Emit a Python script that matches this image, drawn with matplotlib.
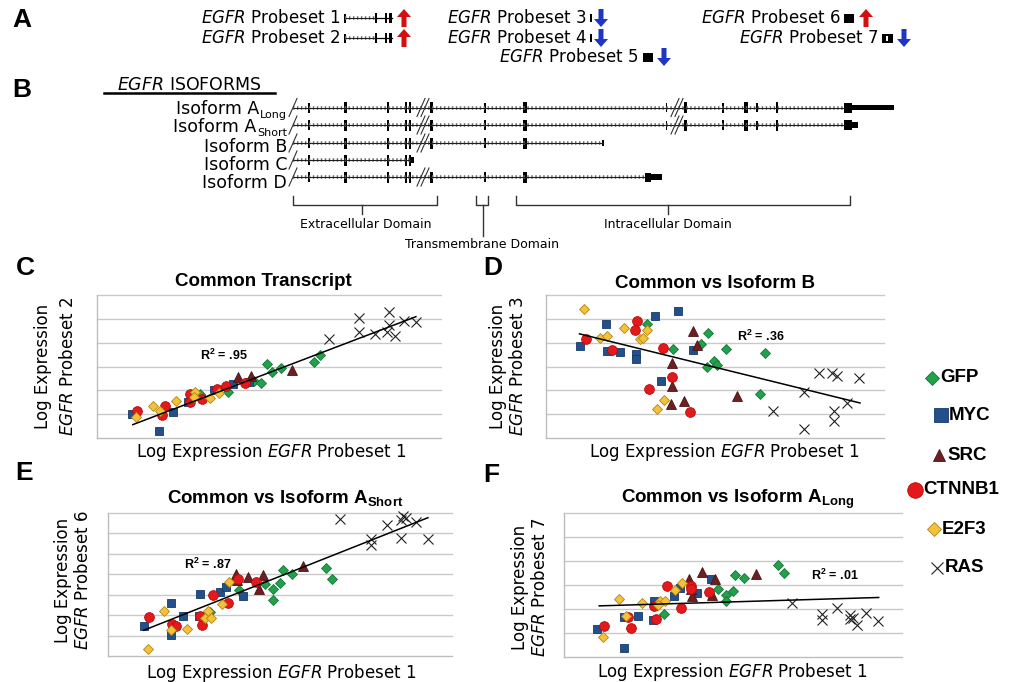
import matplotlib
matplotlib.use('Agg')
import matplotlib.pyplot as plt
from matplotlib.patches import Rectangle, Polygon

plt.rcParams['mathtext.fontset'] = 'custom'
plt.rcParams['mathtext.rm'] = 'DejaVu Sans'
plt.rcParams['mathtext.it'] = 'DejaVu Sans:italic'
plt.rcParams['mathtext.bf'] = 'Liberation Sans:bold'
plt.rcParams['mathtext.sf'] = 'DejaVu Sans'
plt.rcParams['font.family'] = ['DejaVu Sans']

# ---------------- data (x: probeset 1, y: other probeset; grid units) ----------------
groups = ['GFP', 'MYC', 'SRC', 'CTNNB1', 'E2F3', 'RAS']

c_gfp = [(3.00, 1.84), (3.81, 1.93), (4.57, 2.40), (4.77, 2.30), (4.94, 3.11), (5.09, 2.75), (5.36, 2.92), (6.30, 3.18), (6.49, 3.49)]
c_myc = [(1.02, 1.00), (1.81, 0.31), (2.20, 1.09), (2.65, 1.53), (3.39, 2.02), (3.94, 2.26), (4.41, 2.36)]
c_src = [(4.09, 2.55), (4.48, 2.62), (5.67, 2.86)]
c_ctnnb1 = [(1.16, 1.14), (1.88, 0.95), (1.97, 1.35), (2.69, 1.84), (2.71, 1.49), (3.05, 1.65), (3.49, 2.05), (3.76, 2.20), (4.31, 2.30)]
c_e2f3 = [(1.14, 0.88), (1.63, 1.33), (1.82, 1.12), (2.30, 1.56), (2.86, 1.93), (2.81, 1.74), (3.29, 1.67), (3.54, 1.88)]
c_ras = [(6.73, 4.14), (7.63, 5.02), (7.63, 4.46), (8.07, 4.35), (8.50, 5.27), (8.50, 4.74), (8.43, 4.46), (8.65, 4.26), (8.91, 4.91), (9.27, 4.88)]
c_trend = [(1.04, 0.56), (9.27, 5.09)]

d_gfp = [(2.99, 4.77), (3.77, 3.75), (4.78, 4.41), (4.58, 3.95), (4.96, 3.24), (5.07, 3.07), (4.76, 2.97), (5.33, 3.73), (6.48, 3.57), (6.32, 1.86)]
d_myc = [(1.01, 3.86), (1.78, 4.77), (1.80, 3.63), (2.18, 3.60), (2.65, 3.54), (2.65, 3.31), (3.23, 5.12), (3.92, 5.33), (4.36, 3.70), (3.39, 2.41)]
d_src = [(4.36, 4.51), (4.48, 3.91), (3.74, 3.14), (3.74, 2.19), (3.69, 1.44), (4.07, 1.56), (5.66, 1.77)]
d_ctnnb1 = [(1.17, 4.16), (1.95, 3.70), (2.69, 4.91), (2.64, 4.53), (3.46, 3.78), (3.74, 2.55), (3.04, 2.07), (4.27, 1.09)]
d_e2f3 = [(1.13, 5.40), (1.61, 4.21), (1.80, 4.28), (2.30, 4.63), (2.79, 4.14), (2.87, 4.21), (2.99, 4.53), (3.48, 1.58), (3.28, 1.21)]
d_ras = [(8.08, 2.72), (8.47, 2.72), (8.62, 2.61), (9.27, 2.53), (7.62, 1.95), (6.73, 1.12), (8.52, 1.14), (8.92, 1.45), (8.52, 0.70), (7.62, 0.38)]
d_trend = [(0.99, 4.37), (9.29, 1.47)]

e_gfp = [(2.96, 2.15), (3.80, 3.21), (4.56, 3.54), (4.79, 3.30), (4.79, 2.74), (5.00, 3.59), (5.10, 4.19), (5.36, 4.01), (6.33, 4.32), (6.50, 3.75)]
e_myc = [(1.05, 1.47), (1.82, 1.01), (1.83, 2.59), (2.18, 1.94), (2.67, 3.05), (3.25, 3.13), (3.42, 3.36), (3.93, 2.92), (2.65, 1.94)]
e_src = [(3.73, 4.01), (3.76, 3.70), (4.08, 3.87), (4.50, 3.95), (4.40, 3.30), (5.68, 4.41)]
e_ctnnb1 = [(1.18, 1.91), (1.86, 1.55), (1.99, 1.47), (2.72, 1.50), (2.67, 1.94), (3.06, 2.97), (3.50, 2.61), (3.77, 3.75), (4.29, 3.62)]
e_e2f3 = [(1.15, 0.36), (1.62, 2.22), (1.82, 1.29), (2.31, 1.31), (2.82, 1.88), (2.90, 2.19), (3.00, 1.86), (3.30, 2.53), (3.52, 3.62)]
e_ras = [(6.73, 6.72), (7.64, 5.71), (7.64, 5.45), (8.11, 6.43), (8.52, 6.64), (8.59, 6.84), (8.67, 6.77), (8.95, 6.56), (8.52, 5.77), (9.30, 5.74)]
e_trend = [(1.04, 1.26), (9.30, 6.77)]

f_gfp = [(2.96, 1.80), (4.57, 2.85), (4.79, 2.60), (4.79, 2.33), (4.99, 2.76), (5.06, 3.42), (5.34, 3.28), (6.32, 3.84), (6.50, 3.49)]
f_myc = [(0.99, 1.16), (1.78, 0.38), (1.78, 1.67), (2.20, 1.72), (2.65, 2.34), (2.63, 1.56), (3.24, 2.53), (3.42, 2.86), (3.93, 2.67), (4.34, 3.25)]
f_src = [(3.71, 3.25), (3.75, 2.83), (3.78, 2.53), (4.08, 3.56), (4.38, 2.58), (4.48, 3.25), (5.67, 3.47)]
f_ctnnb1 = [(1.18, 1.30), (1.89, 1.67), (1.97, 1.19), (2.65, 2.14), (2.72, 1.60), (3.04, 2.96), (3.46, 2.05), (3.75, 2.97), (3.75, 2.82), (4.28, 2.69)]
f_e2f3 = [(1.15, 0.82), (1.62, 2.41), (1.82, 1.72), (2.31, 2.25), (2.84, 2.34), (2.99, 2.34), (3.29, 2.80), (3.50, 3.07), (2.79, 2.16)]
f_ras = [(6.74, 2.26), (7.63, 1.81), (7.63, 1.56), (8.07, 2.05), (8.47, 1.74), (8.47, 1.58), (8.54, 1.63), (8.67, 1.33), (8.93, 1.83), (9.28, 1.51)]
f_trend = [(1.04, 2.13), (9.31, 2.48)]

r2_labels = ['.95', '.36', '.87', '.01']
titles = ['Common Transcript', 'Common vs Isoform B',
          r'Common vs Isoform A$_{\mathbf{Short}}$', r'Common vs Isoform A$_{\mathbf{Long}}$']
y_probesets = ['2', '3', '6', '7']
iso_names = ['Isoform A', 'Isoform A', 'Isoform B', 'Isoform C', 'Isoform D']
iso_subs = ['Long', 'Short', '', '', '']

# ---------------- styles ----------------
styles = {
    'GFP': dict(marker='D', mfc='#22a04b', mec='#16753a', ms=5.4, mew=0.6),
    'MYC': dict(marker='s', mfc='#234f8a', mec='#173a68', ms=6.3, mew=0.6),
    'SRC': dict(marker='^', mfc='#6d1f22', mec='#4d1416', ms=7.0, mew=0.6),
    'CTNNB1': dict(marker='o', mfc='#e3191b', mec='#b30c0c', ms=7.0, mew=0.6),
    'E2F3': dict(marker='D', mfc='#f3c23a', mec='#b08518', ms=5.4, mew=0.6),
    'RAS': dict(marker='x', color='#222222', ms=7.0, mew=0.8),
}

W, H = 1010, 682
fig = plt.figure(figsize=(W / 100, H / 100), dpi=100)


def px_axes(l, t, r, b):
    return fig.add_axes([l / W, 1 - b / H, (r - l) / W, (b - t) / H])


panels = [
    dict(box=(97, 295, 441, 438), ymax=6, data=[c_gfp, c_myc, c_src, c_ctnnb1, c_e2f3, c_ras], trend=c_trend),
    dict(box=(546, 295, 884, 438), ymax=6, data=[d_gfp, d_myc, d_src, d_ctnnb1, d_e2f3, d_ras], trend=d_trend),
    dict(box=(108, 513, 452, 656), ymax=7, data=[e_gfp, e_myc, e_src, e_ctnnb1, e_e2f3, e_ras], trend=e_trend),
    dict(box=(564, 513, 902, 657), ymax=6, data=[f_gfp, f_myc, f_src, f_ctnnb1, f_e2f3, f_ras], trend=f_trend),
]

for p in panels:
    ax = px_axes(*p['box'])
    ax.set_xlim(0, 10)
    ax.set_ylim(0, p['ymax'])
    for k in range(1, p['ymax'] + 1):
        ax.axhline(k, color='#c9c9c9', lw=1.0, zorder=0, clip_on=False)
    for s in ['top', 'right']:
        ax.spines[s].set_visible(False)
    for s in ['left', 'bottom']:
        ax.spines[s].set_color('#bdbdbd')
        ax.spines[s].set_linewidth(1.0)
    ax.set_xticks([])
    ax.set_yticks([])
    for g, pts in zip(groups, p['data']):
        xs = [q[0] for q in pts]
        ys = [q[1] for q in pts]
        ax.plot(xs, ys, ls='none', zorder=3, clip_on=False, **styles[g])
    tx = [q[0] for q in p['trend']]
    ty = [q[1] for q in p['trend']]
    ax.plot(tx, ty, color='black', lw=1.1, zorder=4)

# ---------------- overlay in pixel coordinates ----------------
ov = fig.add_axes([0, 0, 1, 1], zorder=10)
ov.set_xlim(0, W)
ov.set_ylim(H, 0)
ov.axis('off')
ov.patch.set_alpha(0)
renderer = fig.canvas.get_renderer()

# panel letters
for lab, (x, y) in zip('ABCDEF', [(22, 20), (22, 90), (25, 268), (493, 268), (24, 473), (491, 475)]):
    ov.text(x, y, lab, fontsize=19, fontweight='bold', family='Liberation Sans', ha='center', va='center')

# titles, R2, axis labels
title_pos = [(263, 281), (715, 283), (285, 499), (738, 499)]
r2_pos = [(224, 355), (761, 336), (208, 564), (835, 575)]
xlab_pos = [(271, 452), (724, 452), (281, 673), (732, 672)]
ylab_pos = [(43, 68, 366), (498, 518, 366), (63, 83, 580), (520, 540, 587)]
for i in range(4):
    ov.text(*title_pos[i], titles[i], fontsize=13.5, fontweight='bold', family='Liberation Sans',
            ha='center', va='center')
    ov.text(*r2_pos[i], r'R$^{\mathbf{2}}$ = ' + r2_labels[i], fontsize=9, fontweight='bold',
            family='Liberation Sans', ha='center', va='center')
    ov.text(*xlab_pos[i], r'Log Expression $\mathit{EGFR}$ Probeset 1', fontsize=12,
            ha='center', va='center')
    x1, x2, yc = ylab_pos[i]
    ov.text(x1, yc, 'Log Expression', fontsize=12, rotation=90, ha='center', va='center')
    ov.text(x2, yc, r'$\mathit{EGFR}$ Probeset ' + y_probesets[i], fontsize=12, rotation=90,
            ha='center', va='center')

# legend
leg_marker = [(932, 378), (941, 415), (939, 455), (915, 490), (934, 529), (937, 568)]
leg_scale = {'GFP': 1.3, 'MYC': 1.5, 'SRC': 1.3, 'CTNNB1': 1.6, 'E2F3': 1.3, 'RAS': 1.3}
for g, (mx, my) in zip(groups, leg_marker):
    st = dict(styles[g])
    st['ms'] = st['ms'] * leg_scale[g]
    ov.plot([mx], [my], ls='none', **st)
    ov.text(mx + 8, my, g, fontsize=13.5, fontweight='bold', family='Liberation Sans',
            ha='left', va='center')

# ---------------- helpers ----------------
RED = '#d30f0f'
BLUE = '#1f35c4'


def up_arrow(cx, yc, color, h=18, hw=14, sw=5, hh=8):
    yb, yt = yc + h / 2, yc - h / 2
    pts = [(cx - sw / 2, yb), (cx + sw / 2, yb), (cx + sw / 2, yt + hh), (cx + hw / 2, yt + hh),
           (cx, yt), (cx - hw / 2, yt + hh), (cx - sw / 2, yt + hh)]
    ov.add_patch(Polygon(pts, closed=True, color=color, lw=0))


def down_arrow(cx, yc, color, h=18, hw=14, sw=5, hh=8):
    yt, yb = yc - h / 2, yc + h / 2
    pts = [(cx - sw / 2, yt), (cx + sw / 2, yt), (cx + sw / 2, yb - hh), (cx + hw / 2, yb - hh),
           (cx, yb), (cx - hw / 2, yb - hh), (cx - sw / 2, yb - hh)]
    ov.add_patch(Polygon(pts, closed=True, color=color, lw=0))


def bar(x, y, w, h, color='black'):
    ov.add_patch(Rectangle((x - w / 2, y - h / 2), w, h, color=color, lw=0))


def intron(x0, x1, y):
    ov.plot([x0, x1], [y, y], color='#6f6f6f', lw=2.6, ls=(0, (0.4, 0.7)), solid_capstyle='butt')
    ov.plot([x0, x1], [y, y], color='#1e1e1e', lw=0.8, solid_capstyle='butt')


def probe_text(xr, y, n):
    ov.text(xr, y, r'$\mathit{EGFR}$ Probeset ' + n, fontsize=12, ha='right', va='center')


# ---------------- panel A: probesets ----------------
for y, n in [(18, '1'), (38, '2')]:
    probe_text(340, y, n)
    intron(345, 376, y)
    ov.plot([376, 392], [y, y], color='black', lw=0.9)
    bar(345, y, 1.4, 9)
    bar(376, y, 2.4, 10)
    bar(386, y, 2.4, 10)
    bar(390.5, y, 2.4, 10)
    up_arrow(404, y, RED)

for y, n in [(18, '3'), (38, '4')]:
    probe_text(587, y, n)
    bar(591, y, 1.6, 8)
    down_arrow(601, y, BLUE)

probe_text(638, 57, '5')
bar(648, 57, 10, 9)
down_arrow(664, 57, BLUE)

probe_text(841, 18, '6')
bar(849, 18, 10, 9)
up_arrow(866, 18, RED)

probe_text(878, 38, '7')
bar(887, 38, 11, 9)
bar(887, 38, 1.2, 5, color='white')
down_arrow(904, 38, BLUE)

# ---------------- panel B: isoforms ----------------
ov.text(117, 85, r'$\mathit{EGFR}$ ISOFORMS', fontsize=12.5, ha='left', va='center')
ov.plot([104, 275], [93, 93], color='black', lw=1.8)

row_y = [107.5, 125, 143, 160, 177]
row_end = [845, 845, 603, 411, 645]
text_base = [114, 132, 151.5, 170, 188]
for name, sub, yb in zip(iso_names, iso_subs, text_base):
    xr = 287
    if sub:
        st = ov.text(xr, yb + 3.5, sub, fontsize=8, ha='right', va='baseline')
        xr = xr - st.get_window_extent(renderer).width - 0.5
    ov.text(xr, yb, name, fontsize=12.5, ha='right', va='baseline')

early = [(309, 1.8, 10), (345, 3.0, 11), (388, 2.6, 11), (406, 2.6, 11), (410, 2.6, 11)]
mid = [(431, 3.0, 11), (485, 2.0, 10), (525, 3.6, 11)]
late = [(666.5, 1.2, 9), (685, 3.0, 11), (723, 2.0, 10), (746, 3.6, 11), (757, 1.2, 9), (777, 2.6, 11)]


def slash(x, y, dx=4, dy=9):
    ov.plot([x - dx, x + dx], [y + dy, y - dy], color='#333333', lw=0.8)


for i, (y, xe) in enumerate(zip(row_y, row_end)):
    intron(293, xe, y)
    slash(293, y)
    for (x, w, h) in early:
        bar(x, y, w, h)
    if i != 3:
        slash(421, y)
        slash(425, y)
        for (x, w, h) in mid:
            bar(x, y, w, h)
    if i in (0, 1):
        slash(675, y)
        slash(679, y)
        for (x, w, h) in late:
            bar(x, y, w, h)
        bar(848, y, 7.5, 10)
bar(871.5, row_y[0], 45, 5.5)
bar(853, row_y[1], 10, 5.5)
bar(603, row_y[2], 1.6, 6)
bar(412.5, row_y[3], 3.5, 6)
bar(647.5, row_y[4], 6, 9)
bar(655, row_y[4], 14, 5.5)


# domain brackets
def bracket(x0, x1, y=205, h=9):
    ov.plot([x0, x0, x1, x1], [y - h, y, y, y - h], color='#333333', lw=1.0)


bracket(293, 437)
ov.plot([362, 362], [205, 214], color='#333333', lw=1.0)
ov.text(366, 224, 'Extracellular Domain', fontsize=9, ha='center', va='center')
bracket(476, 488)
ov.plot([482.5, 482.5], [205, 236], color='#333333', lw=1.0)
ov.text(482, 245, 'Transmembrane Domain', fontsize=9, ha='center', va='center')
bracket(516, 850)
ov.plot([668, 668], [205, 214], color='#333333', lw=1.0)
ov.text(668, 224, 'Intracellular Domain', fontsize=9, ha='center', va='center')

fig.savefig('out.png', dpi=100)
